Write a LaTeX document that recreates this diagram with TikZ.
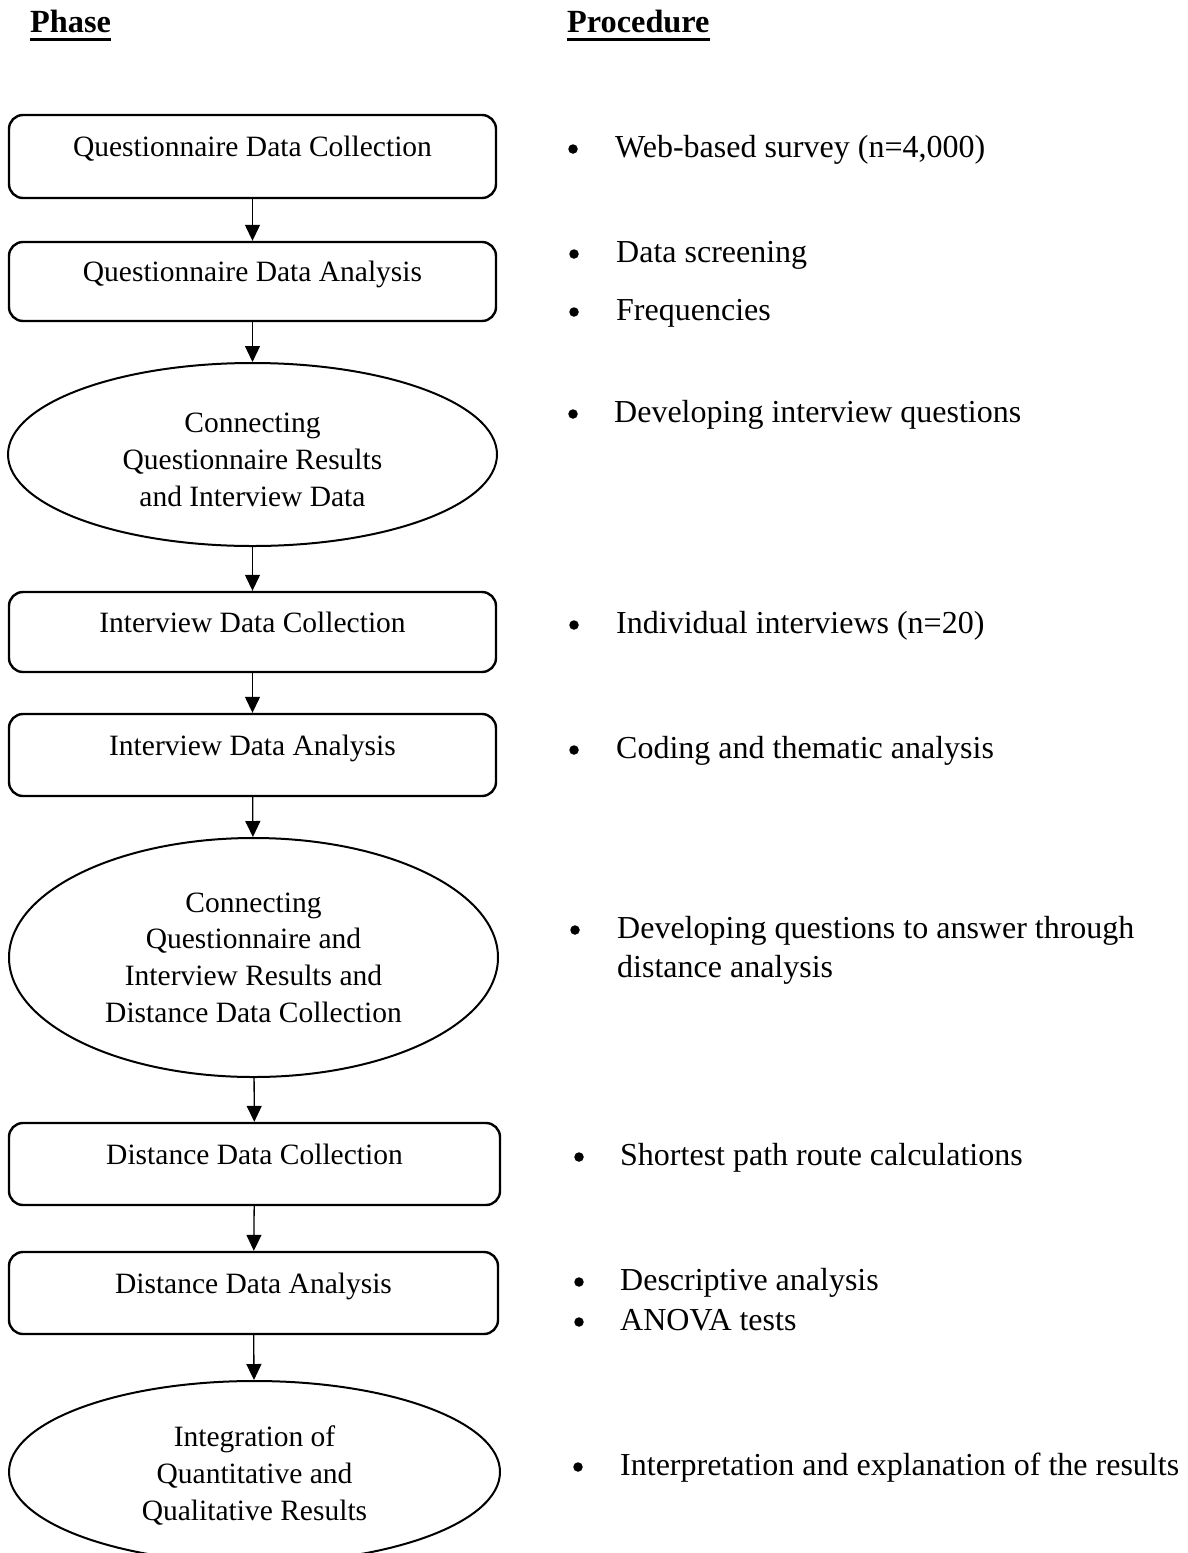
\documentclass[tikz,border=0pt]{standalone}
\usepackage{fontspec}
\setmainfont{Liberation Serif}
\usetikzlibrary{shapes.geometric,arrows.meta}
\begin{document}
\begin{tikzpicture}[x=1pt,y=-1pt,
  lfont/.style={font=\fontsize{29.5}{36.7}\selectfont},
  rfont/.style={font=\fontsize{32}{38}\selectfont},
  phasebox/.style={draw,line width=2.4pt,rounded corners=14pt,inner sep=0pt,
    minimum width=487pt,minimum height=82pt,text height=10pt,text depth=10pt,lfont},
  phaseell/.style={draw,ellipse,line width=2pt,inner sep=0pt,align=center,lfont},
  arr/.style={line width=1.3pt,-{Triangle[length=16pt,width=15pt]}},
  bul/.style={circle,fill=black,inner sep=0pt,minimum size=9.5pt},
  itemtxt/.style={anchor=base west,inner sep=0pt,rfont},
  head/.style={anchor=base west,inner sep=0pt,font=\fontsize{32.3}{38}\selectfont\bfseries}]
\useasboundingbox (0,0) rectangle (1187,1553);
\clip (0,0) rectangle (1187,1553);

% headings
\node[head] (ph) at (30,32) {Phase};
\node[head] (pr) at (567,32) {Procedure};
\draw[line width=3pt] ([yshift=-7pt]ph.base west) -- ([yshift=-7pt]ph.base east);
\draw[line width=3pt] ([yshift=-7pt]pr.base west) -- ([yshift=-7pt]pr.base east);

% phase column
\node[phasebox,minimum height=83pt] (b1) at (252.5,156.5) {Questionnaire Data Collection};
\node[phasebox,minimum height=79pt] (b2) at (252.5,281.5) {Questionnaire Data Analysis};
\node[phaseell,minimum width=489pt,minimum height=183pt] (e1) at (252.5,454.5)
  {\rule{0pt}{30pt}Connecting\\Questionnaire Results\\and Interview Data};
\node[phasebox,minimum height=80pt] (b3) at (252.5,632) {Interview Data Collection};
\node[phasebox] (b4) at (252.5,755) {Interview Data Analysis};
\node[phaseell,minimum width=489pt,minimum height=239pt] (e2) at (253.5,957.5)
  {Connecting\\Questionnaire and\\Interview Results and\\Distance Data Collection};
\node[phasebox,minimum width=491pt] (b5) at (254.5,1164) {Distance Data Collection};
\node[phasebox,minimum width=489pt] (b6) at (253.5,1293) {Distance Data Analysis};
\node[phaseell,minimum width=491pt,minimum height=182pt] (e3) at (254.5,1472)
  {\rule{0pt}{28pt}Integration of\\Quantitative and\\Qualitative Results};

\draw[arr] (b1) -- (b2);
\draw[arr] (b2) -- (e1);
\draw[arr] (e1) -- (b3);
\draw[arr] (b3) -- (b4);
\draw[arr] (b4) -- (e2);
\draw[arr] (e2) -- (b5);
\draw[arr] (b5) -- (b6);
\draw[arr] (b6) -- (e3);

% procedure column
\node[bul] (u1) at (573,149) {};
\node[itemtxt] (t1) at (615,157) {Web-based survey (n=4,000)};
\node[bul] (u2) at (574,254) {};
\node[itemtxt] (t2) at (616,262) {Data screening};
\node[bul] (u3) at (574,312) {};
\node[itemtxt] (t3) at (616,320) {Frequencies};
\node[bul] (u4) at (573,414) {};
\node[itemtxt] (t4) at (614,422) {Developing interview questions};
\node[bul] (u5) at (574,625) {};
\node[itemtxt] (t5) at (616,633) {Individual interviews (n=20)};
\node[bul] (u6) at (574,750) {};
\node[itemtxt] (t6) at (616,758) {Coding and thematic analysis};
\node[bul] (u7) at (575,930) {};
\node[itemtxt] (t7) at (617,938) {Developing questions to answer through};
\node[itemtxt] (t7b) at (617,977) {distance analysis};
\node[bul] (u8) at (579,1157) {};
\node[itemtxt] (t8) at (620,1165) {Shortest path route calculations};
\node[bul] (u9) at (579,1282) {};
\node[itemtxt] (t9) at (620,1290) {Descriptive analysis};
\node[bul] (u10) at (579,1322) {};
\node[itemtxt] (t10) at (620,1330) {ANOVA tests};
\node[bul] (u11) at (578,1467) {};
\node[itemtxt] (t11) at (620,1475) {Interpretation and explanation of the results};
\end{tikzpicture}
\end{document}
